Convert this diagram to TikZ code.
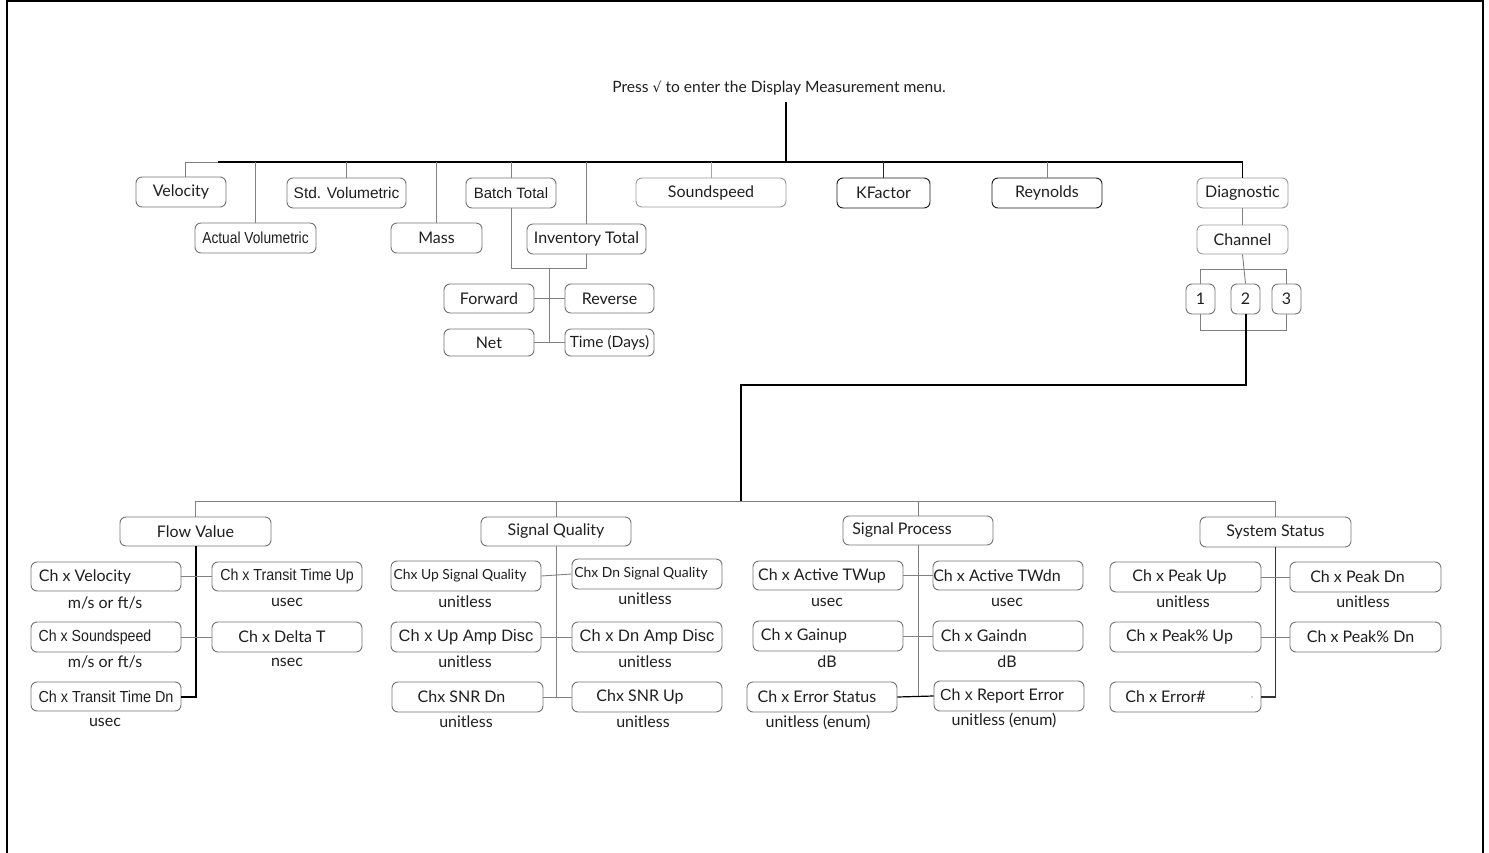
\documentclass[tikz,border=0pt]{standalone}
\usepackage{fontspec}
\usepackage{graphicx}
\setmainfont{Lato}
\newfontfamily\arl{Liberation Sans}
\newfontfamily\djv{DejaVu Sans}
\newcommand\fsz[1]{\fontsize{#1}{#1}\selectfont}
\newcommand\mkbox[7][]{\node[box,#1,minimum width={(#5-#3)*1pt},minimum height={(#6-#4)*1pt}] (#2) at ({(#3+#5)/2},{(#4+#6)/2}) {#7};}
\newcommand\shl[2]{\kern-#1pt\relax #2}
\newcommand\cnd[2]{\scalebox{#1}[1]{\arl\fsz{16}#2}}
\tikzset{
  box/.style={draw=black!55, rounded corners=6pt, line width=0.9pt, inner sep=0pt, text=black!88, font=\fsz{16}},
  dbox/.style={draw=black!90},
  lbox/.style={draw=black!40},
  ar/.style={font=\arl\fsz{#1}},
  lbl/.style={inner sep=0pt, text=black!88, font=\fsz{16}},
  gline/.style={draw=black!50, line width=0.9pt},
  bline/.style={draw=black, line width=2pt},
  mline/.style={draw=black, line width=1.5pt},
}
\begin{document}
\begin{tikzpicture}[x=1pt,y=-1pt]
\useasboundingbox (0,0) rectangle (1489,853);
\draw[line width=2pt] (7,853) -- (7,1) -- (1483,1) -- (1483,853);

% title
\node[lbl, font=\fsz{15.6}] (title) at (779,88) {Press {\djv\fsz{14}√} to enter the Display Measurement menu.};

% top row
\mkbox{vel}{136}{177}{226}{207}{Velocity}
\mkbox{actv}{195}{223}{316}{253}{\cnd{0.86}{Actual Volumetric}}
\mkbox[ar=15.5]{stdv}{287}{178}{406}{208}{Std. Volumetric}
\mkbox{mass}{391}{223}{482}{253}{Mass}
\mkbox[ar=15]{batch}{466}{178}{556}{208}{Batch Total}
\mkbox{inv}{527}{224}{646}{254}{Inventory Total}
\mkbox[lbox]{snd}{636}{178}{786}{207}{Soundspeed}
\mkbox[dbox]{kf}{837}{178}{930}{208}{KFactor}
\mkbox[dbox]{rey}{992}{178}{1102}{208}{Reynolds}
\mkbox[lbox]{diag}{1197}{178}{1288}{208}{Diagnostic}
\mkbox[lbox]{chan}{1197}{225}{1288}{254}{Channel}
\mkbox{c1}{1186}{284}{1215}{314}{1}
\mkbox{c2}{1231}{284}{1260}{314}{2}
\mkbox{c3}{1272}{284}{1301}{314}{3}
\mkbox{fwd}{444}{284}{534}{313}{Forward}
\mkbox{rev}{565}{284}{654}{313}{Reverse}
\mkbox{net}{444}{329}{534}{356}{Net}
\mkbox{tdays}{565}{329}{654}{356}{\fsz{15.5}Time (Days)}

% top connectors
\coordinate (busL) at (185,162);
\coordinate (busK) at (218,162);
\coordinate (busT) at (786,162);
\draw[mline] ([yshift=-7pt]title.south -| busT) -- (busT);
\draw[mline] (busK) -- (busK -| diag.north) -- (diag.north);
\draw[gline] (busL) -- (busK);
\draw[gline] (busL) -- (busL |- vel.north);
\draw[gline] (actv.north) -- (actv.north |- busL);
\draw[gline] (stdv.north) -- (stdv.north |- busL);
\draw[gline] (mass.north) -- (mass.north |- busL);
\draw[gline] (batch.north) -- (batch.north |- busL);
\draw[gline] (inv.north) -- (inv.north |- busL);
\draw[draw=black!35, line width=0.9pt] (snd.north) -- (snd.north |- busL);
\draw[draw=black!85, line width=0.9pt] (kf.north) -- (kf.north |- busL);
\draw[gline] (rey.north) -- (rey.north |- busL);

\coordinate (bi) at (549,268);
\draw[gline] (batch.south) -- (batch.south |- bi) -- (inv.south |- bi) -- (inv.south);
\draw[gline] (bi) -- (bi |- net.east);
\draw[gline] (fwd.east) -- (rev.west);
\draw[gline] (net.east) -- (tdays.west);

\draw[gline] (diag.south) -- (chan.north);
\coordinate (rt) at (1245,269);
\coordinate (rb) at (1245,330);
\draw[gline] (chan.south) -- (c2.north);
\draw[gline] (c1.north) -- (c1.north |- rt) -- (c3.north |- rt) -- (c3.north);
\draw[gline] (c1.south) -- (c1.south |- rb) -- (c3.south |- rb) -- (c3.south);
\coordinate (jn) at (741,385);
\coordinate (b2) at (741,501);
\draw[bline] (c2.south) -- (c2.south |- jn) -- (jn) -- (b2);

% bottom headers
\mkbox{fv}{120}{517}{271}{546}{Flow Value}
\mkbox{sq}{481}{517}{631}{546}{Signal Quality}
\mkbox{sp}{843}{516}{993}{545}{\shl{32}{Signal Process}}
\mkbox{ss}{1200}{517}{1351}{547}{System Status}
\draw[gline] (fv.north) -- (fv.north |- b2) -- (ss.north |- b2) -- (ss.north);
\draw[gline] (sq.north) -- (sq.north |- b2);
\draw[gline] (sp.north) -- (sp.north |- b2);

% flow value
\mkbox{v1}{31}{562}{181}{591}{\shl{42}{Ch x Velocity}}
\mkbox{v2}{212}{562}{362}{591}{\cnd{0.89}{Ch x Transit Time Up}}
\mkbox{v3}{31}{622}{181}{652}{\shl{22}{\cnd{0.885}{Ch x Soundspeed}}}
\mkbox{v4}{212}{622}{362}{652}{\shl{10}{Ch x Delta T}}
\mkbox{v5}{31}{682}{181}{711}{\cnd{0.9}{Ch x Transit Time Dn}}
\node[lbl] (u1) at (105,603) {m/s or ft/s};
\node[lbl] (u2) at (287,602) {usec};
\node[lbl] (u3) at (105,662) {m/s or ft/s};
\node[lbl] (u4) at (287,662) {nsec};
\node[lbl] (u5) at (105,722) {usec};
\draw[bline] (fv.south) -- (fv.south |- v5.east) -- (v5.east);
\draw[gline] (v1.east) -- (v2.west);
\draw[gline] (v3.east) -- (v4.west);

% signal quality
\mkbox{q1}{391}{561}{541}{591}{\fsz{13.9}\shl{12}{Chx Up Signal Quality}}
\mkbox{q2}{572}{559}{722}{589}{\fsz{13.9}\shl{12}{Chx Dn Signal Quality}}
\mkbox[ar=16.5]{q3}{391}{622}{541}{652}{Ch x Up Amp Disc}
\mkbox[ar=16.5]{q4}{572}{622}{722}{652}{Ch x Dn Amp Disc}
\mkbox{q5}{392}{682}{543}{712}{\shl{12}{Chx SNR Dn}}
\mkbox{q6}{572}{682}{722}{712}{\shl{14}{Chx SNR Up}}
\node[lbl] (w1) at (465,602) {unitless};
\node[lbl] (w2) at (645,599) {unitless};
\node[lbl] (w3) at (465,662) {unitless};
\node[lbl] (w4) at (645,662) {unitless};
\node[lbl] (w5) at (466,722) {unitless};
\node[lbl] (w6) at (643,722) {unitless};
\draw[gline] (sq.south) -- (sq.south |- q5.east);
\draw[gline] (q1.east) -- (q2.west);
\draw[gline] (q3.east) -- (q4.west);
\draw[gline] (q5.east) -- (q6.west);

% signal process
\mkbox{p1}{753}{561}{903}{590}{\shl{12}{Ch x Active TWup}}
\mkbox{p2}{933}{561}{1083}{590}{\shl{22}{Ch x Active TWdn}}
\mkbox{p3}{753}{621}{903}{651}{\shl{48}{Ch x Gainup}}
\mkbox{p4}{933}{621}{1083}{651}{\shl{48}{Ch x Gaindn}}
\mkbox{p5}{747}{682}{897}{712}{\shl{10}{Ch x Error Status}}
\mkbox{p6}{934}{681}{1084}{711}{\shl{14}{{\arl\fsz{16}Ch x} Report Error}}
\node[lbl] (x1) at (827,602) {usec};
\node[lbl] (x2) at (1007,602) {usec};
\node[lbl] (x3) at (827,662) {dB};
\node[lbl] (x4) at (1007,662) {dB};
\node[lbl] (x5) at (818,722) {unitless (enum)};
\node[lbl] (x6) at (1004,720) {unitless (enum)};
\draw[gline] (sp.south) -- (sp.south |- p6.west);
\draw[gline] (p1.east) -- (p2.west);
\draw[gline] (p3.east) -- (p4.west);
\draw[draw=black, line width=1.2pt] (p5.east) -- (p6.west);

% system status
\mkbox{s1}{1110}{562}{1261}{592}{\shl{12}{Ch x Peak Up}}
\mkbox{s2}{1290}{562}{1441}{592}{\shl{16}{Ch x Peak Dn}}
\mkbox{s3}{1110}{622}{1261}{652}{\shl{12}{Ch x Peak\% Up}}
\mkbox{s4}{1290}{622}{1441}{652}{\shl{10}{Ch x Peak\% Dn}}
\mkbox{s5}{1110}{682}{1261}{712}{\shl{40}{Ch x Error\#}}
\node[lbl] (y1) at (1183,602) {unitless};
\node[lbl] (y2) at (1363,602) {unitless};
\fill[black!70] (1252,697) circle (0.7);
\draw[draw=black!80, line width=1.1pt] (ss.south) -- (ss.south |- s5.east) -- (s5.east);
\draw[gline] (s1.east) -- (s2.west);
\draw[gline] (s3.east) -- (s4.west);
\end{tikzpicture}
\end{document}
